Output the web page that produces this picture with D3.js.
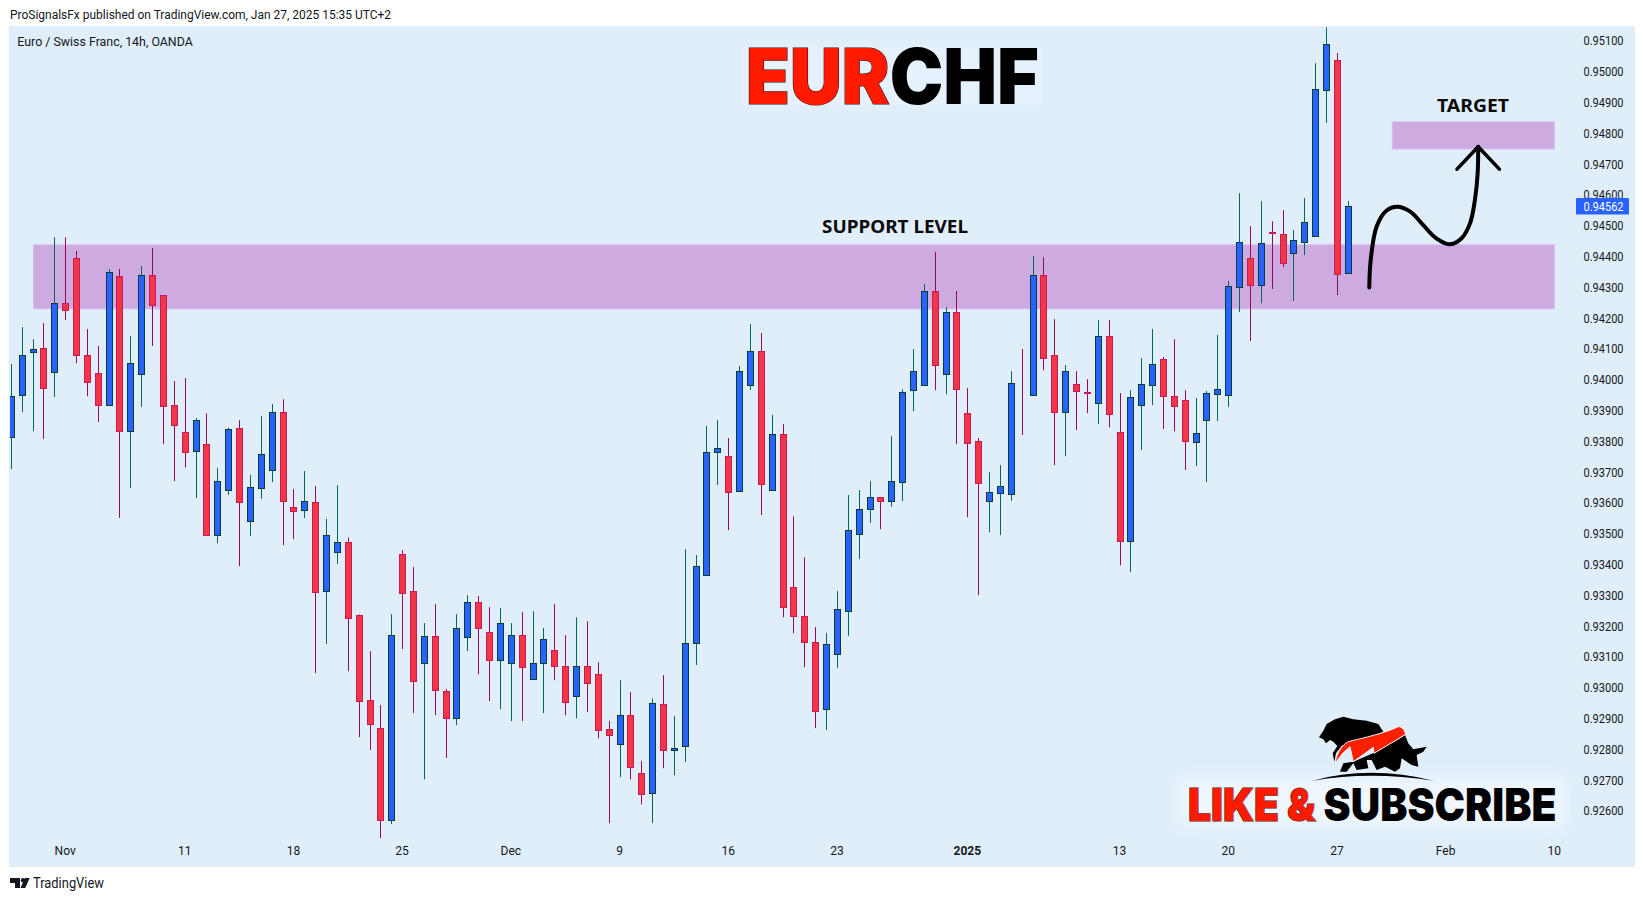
<!DOCTYPE html>
<html><head><meta charset="utf-8">
<script src="https://cdn.jsdelivr.net/npm/d3@7"></script>
<style>
html,body{margin:0;padding:0;background:#fff;overflow:hidden}
svg{display:block}
text{font-family:Roboto,"Open Sans",sans-serif}
</style></head><body>
<svg id="c" width="1643" height="901"></svg>
<script>
// prices in 1/100000 of a franc
const opens=[93812,93951,94090,94101,94025,94247,94396,94081,94020,93918,94335,93834,94019,94338,94273,93916,93828,93769,93789,93496,93642,93841,93539,93649,93707,93893,93585,93577,93601,93314,93441,93474,93237,92958,92867,92571,93435,93312,93080,93166,92990,92902,93165,93279,93179,93090,93080,93172,93028,93080,93123,93071,92971,93071,93045,92864,92817,92912,92721,92658,92945,92798,92811,93145,93366,93765,93753,93639,93983,94091,93642,93822,93325,93231,93149,92929,93108,93250,93499,93580,93617,93606,93668,93967,93983,94286,94018,94218,93890,93799,93606,93632,93629,93987,93950,94338,94078,93895,93984,93961,93924,94140,93831,93476,93918,93983,94065,93945,93935,93798,93868,93954,93951,94301,94396,94308,94479,94474,94412,94447,94467,94941,95036,94347];
const highs=[94050,94170,94131,94183,94462,94462,94417,94164,94109,94358,94359,94141,94368,94427,94273,93995,94005,93875,93890,93713,93844,93868,93690,93881,93920,93936,93644,93703,93654,93547,93657,93487,93237,93118,92943,93238,93446,93391,93209,93271,92995,93238,93300,93297,93261,93258,93209,93245,93248,93193,93271,93170,93228,93215,93082,92891,93024,92985,92761,92964,93040,92907,93449,93430,93849,93868,93810,94044,94180,94151,93885,93855,93556,93423,93196,93177,93313,93625,93641,93670,93617,93816,93968,94099,94310,94414,94235,94287,93972,93810,93699,93722,94027,94099,94401,94397,94196,94047,94027,94001,94193,94193,93956,93965,94069,94164,94073,94131,93965,93940,93963,94145,94320,94605,94498,94579,94514,94550,94485,94589,95027,95143,95060,94579];
const lows=[93709,93894,93833,93807,93943,94193,94053,93946,93862,93918,93551,93648,93911,94109,93790,93670,93714,93615,93492,93469,93625,93394,93492,93612,93667,93462,93482,93550,93047,93141,93401,93053,92839,92797,92511,92557,93125,92917,92702,92910,92771,92878,93118,93043,92956,92930,92891,92891,93028,92917,93024,92910,92900,92920,92835,92560,92709,92702,92621,92560,92738,92715,92758,93073,93363,93657,93511,93635,93966,93560,93642,93228,93176,93066,92868,92862,93063,93168,93417,93534,93514,93587,93605,93897,93983,93965,93952,93790,93553,93300,93504,93495,93606,93820,93950,94030,93722,93751,93836,93891,93855,93845,93397,93375,93771,93917,93839,93832,93706,93719,93667,93865,93911,94219,94125,94248,94294,94365,94255,94404,94467,94833,94274,94347];
const closes=[93948,94078,94098,93973,94250,94227,94080,93993,93918,94348,93834,94052,94338,94243,93915,93853,93766,93867,93496,93669,93838,93603,93650,93757,93893,93606,93574,93604,93311,93494,93474,93227,92957,92882,92571,93172,93308,93022,93166,92993,92902,93192,93279,93194,93090,93208,93172,93067,93081,93156,93070,92954,93071,93015,92863,92846,92912,92743,92655,92951,92798,92802,93146,93393,93766,93776,93635,94026,94091,93661,93822,93262,93233,93148,92924,93140,93254,93510,93581,93620,93606,93669,93961,94026,94286,94048,94218,93970,93794,93665,93636,93653,93990,93985,94338,94070,93895,94029,93963,93957,94140,93889,93476,93942,93984,94049,93947,93915,93801,93825,93955,93968,94302,94448,94308,94442,94477,94379,94452,94510,94942,95088,94343,94562];

const priceTicks=[95100,95000,94900,94800,94700,94600,94500,94400,94300,94200,94100,94000,93900,93800,93700,93600,93500,93400,93300,93200,93100,93000,92900,92800,92700,92600];
const timeTickBars=[5,16,26,36,46,56,66,76,88,102,112,122,132,142];
const timeTickLabels=["Nov","11","18","25","Dec","9","16","23","2025","13","20","27","Feb","10"];
const lastPrice=94562;

const zoneBars=[2,142], zonePrices=[94439,94231];
const targetBars=[127,142], targetPrices=[94838,94750];
const curveBars=[124.93,125.06,125.6,126.5,127.5,128.7,129.9,131.1,132.3,133.4,134.2,134.65,134.9,134.95];
const curvePrices=[94299,94388,94496,94548,94561,94545,94501,94458,94439,94458,94507,94583,94669,94756];
const headBars=[133.0,134.95,136.9];
const headPrices=[94683,94756,94683];

const svg=d3.select("#c");
const x=d3.scaleLinear().domain([0,123]).range([11.3,1348.3]);
const y=d3.scaleLinear().domain([92600,95100]).range([810.7,40.7]);
const P={l:10,t:27,r:1634,b:866};
const INK="#131722";

const defs=svg.append("defs");
defs.append("clipPath").attr("id","plot").append("rect").attr("x",P.l).attr("y",P.t).attr("width",P.r-P.l).attr("height",P.b-P.t);
const bl=defs.append("filter").attr("id","blur").attr("x","-20%").attr("y","-60%").attr("width","140%").attr("height","220%");
bl.append("feGaussianBlur").attr("stdDeviation",7);
const gl=defs.append("filter").attr("id","glow").attr("x","-10%").attr("y","-30%").attr("width","120%").attr("height","160%");
gl.append("feGaussianBlur").attr("stdDeviation",1.6);

svg.append("rect").attr("x",P.l-.5).attr("y",P.t-.5).attr("width",P.r-P.l+1).attr("height",P.b-P.t+1)
  .attr("fill","#e0eefa").attr("stroke","#e6e9ee");

function fitText(sel,w){return sel.attr("textLength",w).attr("lengthAdjust","spacingAndGlyphs");}

// header
fitText(svg.append("text").attr("x",10).attr("y",19).attr("font-size",12.5).attr("fill",INK)
  .text("ProSignalsFx published on TradingView.com, Jan 27, 2025 15:35 UTC+2"),381);
fitText(svg.append("text").attr("x",17.3).attr("y",46).attr("font-size",12).attr("fill",INK)
  .text("Euro / Swiss Franc, 14h, OANDA"),175.5);

const plot=svg.append("g").attr("clip-path","url(#plot)");

// zones
function zone(b,p){
  plot.append("rect").attr("x",x(b[0])+.5).attr("y",y(p[0])+.5)
    .attr("width",x(b[1])-x(b[0])-1).attr("height",y(p[1])-y(p[0]))
    .attr("fill","#cdaadf").attr("stroke","#dcbcf0").attr("stroke-width",1);
}
zone(zoneBars,zonePrices);
zone(targetBars,targetPrices);

// candles
const idx=d3.range(opens.length);
const px=i=>Math.floor(x(i));
const isUp=i=>closes[i]>=opens[i];
plot.append("g").selectAll("rect").data(idx).join("rect")
  .attr("x",px).attr("width",1)
  .attr("y",i=>y(highs[i])).attr("height",i=>y(lows[i])-y(highs[i]))
  .attr("fill",i=>isUp(i)?"#00695c":"#960a55");
plot.append("g").selectAll("rect").data(idx).join("rect")
  .attr("x",i=>px(i)-2.5).attr("width",6)
  .attr("y",i=>Math.round(y(Math.max(opens[i],closes[i])))+.5)
  .attr("height",i=>Math.max(0,Math.round(y(Math.min(opens[i],closes[i])))-Math.round(y(Math.max(opens[i],closes[i])))))
  .attr("fill",i=>isUp(i)?"#2962ff":"#f23645")
  .attr("stroke",i=>isUp(i)?"#00403a":"#c9195c").attr("stroke-width",1);

// drawn arrow
plot.append("path").attr("d",d3.line().x(d=>x(d[0])).y(d=>y(d[1])).curve(d3.curveCatmullRom)(curveBars.map((b,i)=>[b,curvePrices[i]])))
  .attr("fill","none").attr("stroke","#000").attr("stroke-width",4).attr("stroke-linecap","round");
plot.append("path").attr("d",d3.line().x(d=>x(d[0])).y(d=>y(d[1]))(headBars.map((b,i)=>[b,headPrices[i]])))
  .attr("fill","none").attr("stroke","#000").attr("stroke-width",3.6).attr("stroke-linecap","round").attr("stroke-linejoin","round");

// annotation text
function note(t,cx,base,w,size){
  return fitText(svg.append("text").attr("x",cx).attr("y",base).attr("text-anchor","middle")
    .style("font-family","'Noto Sans',sans-serif").attr("font-weight",700).attr("font-size",size).attr("fill","#0a0a0a").text(t),w);
}
note("SUPPORT LEVEL",895,233,146,18);
note("TARGET",1473,112,72,18.5);

// EURCHF title
svg.append("rect").attr("x",742).attr("y",46).attr("width",300).attr("height",60).attr("fill","#eaf4ff").attr("filter","url(#glow)").attr("opacity",.5);
function heavy(xs,base,w,size,parts){
  const t=fitText(svg.append("text").attr("x",xs).attr("y",base).attr("font-weight",900).attr("font-size",size)
    .style("font-family","Inter,Roboto,sans-serif").attr("xml:space","preserve"),w);
  parts.forEach(p=>{
    const s=t.append("tspan").attr("fill",p.fill).text(p.text);
    if(p.stroke) s.attr("stroke",p.stroke).attr("stroke-width",1.2).attr("paint-order","stroke");
  });
}
heavy(746,104,293,77,[{text:"EUR",fill:"#ff1a00",stroke:"#301010"},{text:"CHF",fill:"#000"}]);

// logo block
svg.append("rect").attr("x",1180).attr("y",778).attr("width",385).attr("height",48).attr("fill","#f2f8fe").attr("filter","url(#blur)").attr("opacity",.85);
heavy(1188,820.5,368.5,45,[{text:"LIKE & ",fill:"#ff1a00",stroke:"#3a2a2a"},{text:"SUBSCRIBE",fill:"#000"}]);

const logo=svg.append("g").attr("transform","translate(1300,710) scale(0.3333)");
logo.append("path").attr("fill","#000").attr("d",
 "M57,82 L70,62 L80,42 L105,28 L130,20 L160,28 L200,32 L235,42 L250,65 L205,85 L150,95 L125,108 L108,130 L103,155 L98,130 L112,108 L100,95 L90,90 L78,100 L70,88 Z");
logo.append("path").attr("fill","#000").attr("d",
 "M120,185 L130,160 L160,155 L222,128 L300,85 L315,75 L325,100 L340,118 L380,110 L370,125 L350,135 L355,170 L335,165 L305,145 L300,175 L285,185 L255,170 L230,180 L215,150 L200,150 L205,175 L170,180 L160,160 L140,185 Z");
logo.append("path").attr("fill","#ff2000").attr("stroke","#eef2f6").attr("stroke-width",3).attr("d",
 "M105,160 C110,130 125,105 145,95 C170,88 250,72 295,50 C305,50 313,58 317,72 L298,85 L222,130 L220,112 L160,155 L150,110 L128,130 Z");
logo.append("path").attr("fill","#000").attr("d","M38,212 Q210,165 400,212 Q210,182 38,212 Z");

// axes
const yAxis=d3.axisRight(y).tickValues(priceTicks).tickSize(0).tickPadding(0).tickFormat(v=>(v/1e5).toFixed(5));
const gy=svg.append("g").attr("transform","translate(1603.5,-0.4)").call(yAxis);
gy.select(".domain").remove();
gy.selectAll("text").attr("x",0).attr("dy",null).attr("dominant-baseline","central").attr("text-anchor","middle")
  .attr("font-size",12.5).attr("fill",INK).style("font-family","Roboto,sans-serif")
  .attr("textLength",40).attr("lengthAdjust","spacingAndGlyphs");

const xAxis=d3.axisBottom(x).tickValues(timeTickBars).tickSize(0).tickPadding(0).tickFormat((d,i)=>timeTickLabels[i]);
const gx=svg.append("g").attr("transform","translate(-1,846)").call(xAxis);
gx.select(".domain").remove();
gx.selectAll("text").attr("font-size",12).attr("fill",INK).style("font-family","Roboto,sans-serif")
  .attr("font-weight",(d,i)=>timeTickLabels[i]==="2025"?700:400);

// last price badge
const by=y(lastPrice);
svg.append("rect").attr("x",1576).attr("y",by-8.3).attr("width",53).attr("height",16.5).attr("rx",1).attr("fill","#2962ff");
fitText(svg.append("text").attr("x",1603.5).attr("y",by+.2).attr("text-anchor","middle").attr("dominant-baseline","central")
  .attr("font-size",12.5).attr("fill","#fff").text((lastPrice/1e5).toFixed(5)),40);

// TradingView footer
svg.append("path").attr("fill","#131722").attr("d","M10 878H20V888H15V883H10Z");
svg.append("circle").attr("cx",23).attr("cy",880.3).attr("r",2.2).attr("fill","#131722");
svg.append("path").attr("fill","#131722").attr("d","M25 878H29.7L25.2 888H20.5Z");
fitText(svg.append("text").attr("x",33).attr("y",888).attr("font-size",14).attr("fill","#131722").text("TradingView"),71);
</script>
</body></html>
